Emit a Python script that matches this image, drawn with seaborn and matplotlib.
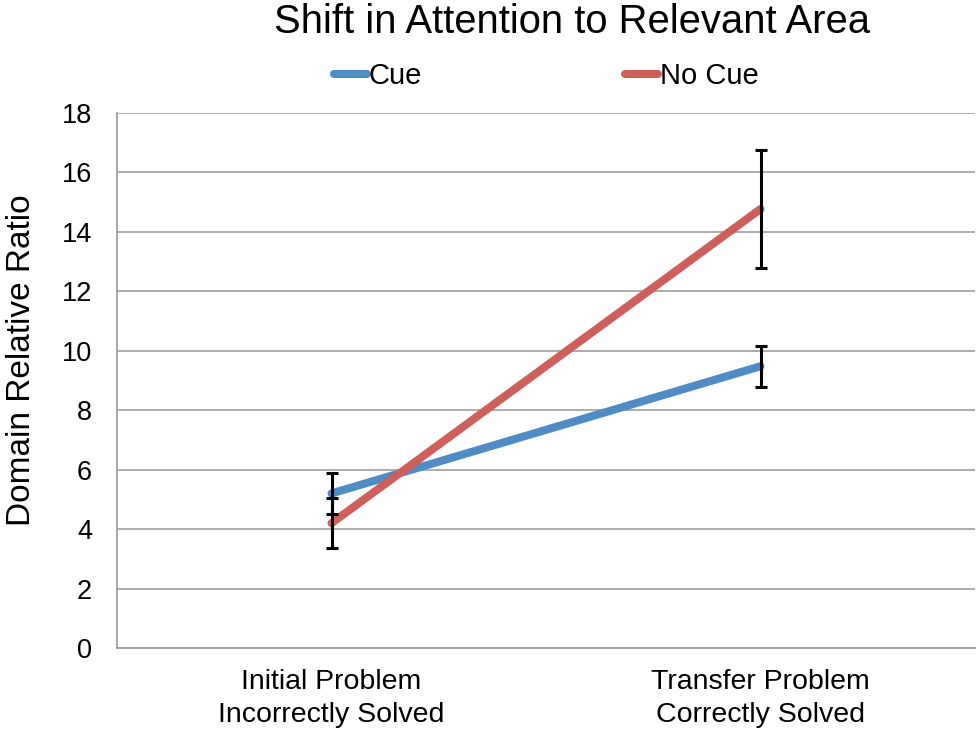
import matplotlib
matplotlib.use("Agg")
import matplotlib.pyplot as plt
import seaborn as sns
import pandas as pd
import numpy as np
from matplotlib.lines import Line2D

categories = ["Initial Problem\nIncorrectly Solved", "Transfer Problem\nCorrectly Solved"]
series_names = ["Cue", "No Cue"]
cue_values = [5.2, 9.48]
nocue_values = [4.2, 14.77]
cue_err = [0.68, 0.69]
nocue_err = [0.83, 2.0]
y_ticks = [0, 2, 4, 6, 8, 10, 12, 14, 16, 18]

colors = {"Cue": "#4F8BC4", "No Cue": "#CF5F5A"}

sns.set_theme(style="white")
plt.rcParams["font.family"] = ["Liberation Sans", "DejaVu Sans"]
plt.rcParams["text.color"] = "black"
plt.rcParams["xtick.color"] = "black"
plt.rcParams["ytick.color"] = "black"

df = pd.DataFrame({
    "cat": list(range(len(categories))) * 2,
    "value": cue_values + nocue_values,
    "err": cue_err + nocue_err,
    "series": ["Cue"] * len(categories) + ["No Cue"] * len(categories),
})

fig = plt.figure(figsize=(9.8, 7.35), dpi=100)
ax = fig.add_axes([117/980, 1 - 648/735, (975-117)/980, (648-113)/735])

sns.lineplot(data=df, x="cat", y="value", hue="series", palette=colors,
             linewidth=5.8, ax=ax, legend=False, solid_capstyle="round", zorder=3)

for name in series_names:
    sub = df[df.series == name]
    ax.errorbar(sub["cat"], sub["value"], yerr=sub["err"], fmt="none",
                ecolor="black", elinewidth=2.2, capsize=4.5, capthick=2.2, zorder=5)

ax.set_xlim(-0.5, 1.5)
ax.set_ylim(0, 18)
ax.set_yticks(y_ticks)
ax.set_yticklabels([str(t) for t in y_ticks], fontsize=19.5)
ax.set_xticks([-0.5, 0.5, 1.5], minor=False)
ax.set_xticklabels([])
ax.set_xticks([0, 1], minor=True)
ax.set_xticklabels(categories, minor=True, fontsize=20.5, linespacing=1.38)
ax.tick_params(axis="x", which="minor", length=0, pad=15, labelcolor="black")
ax.tick_params(axis="x", which="major", length=7, color="#A0A0A0", width=1.2, direction="out")
ax.tick_params(axis="y", length=8, color="#A0A0A0", width=1.2, direction="out", pad=10, labelcolor="black")
ax.yaxis.grid(True, color="#A6A6A6", linewidth=1.3)
ax.xaxis.grid(False)
ax.set_axisbelow(True)
for s in ["top", "right"]:
    ax.spines[s].set_visible(False)
for s in ["left", "bottom"]:
    ax.spines[s].set_color("#A0A0A0")
    ax.spines[s].set_linewidth(1.3)
ax.set_xlabel("")
ax.set_ylabel("")

fig.text(572/980, 1 - 22/735, "Shift in Attention to Relevant Area", ha="center", va="center",
         fontsize=28.8, color="black")
fig.text(22/980, 1 - 360/735, "Domain Relative Ratio", ha="center", va="center", rotation=90,
         fontsize=24, color="black")

handles = [Line2D([], [], color=colors[n], linewidth=5.8, solid_capstyle="round") for n in series_names]
fig.legend(handles, series_names, loc="center", bbox_to_anchor=(546/980, 1 - 76/735), ncol=2,
           frameon=False, fontsize=21, handlelength=1.15, handletextpad=0.05, columnspacing=6.95,
           labelcolor="black")

fig.savefig("out.png", dpi=100)
